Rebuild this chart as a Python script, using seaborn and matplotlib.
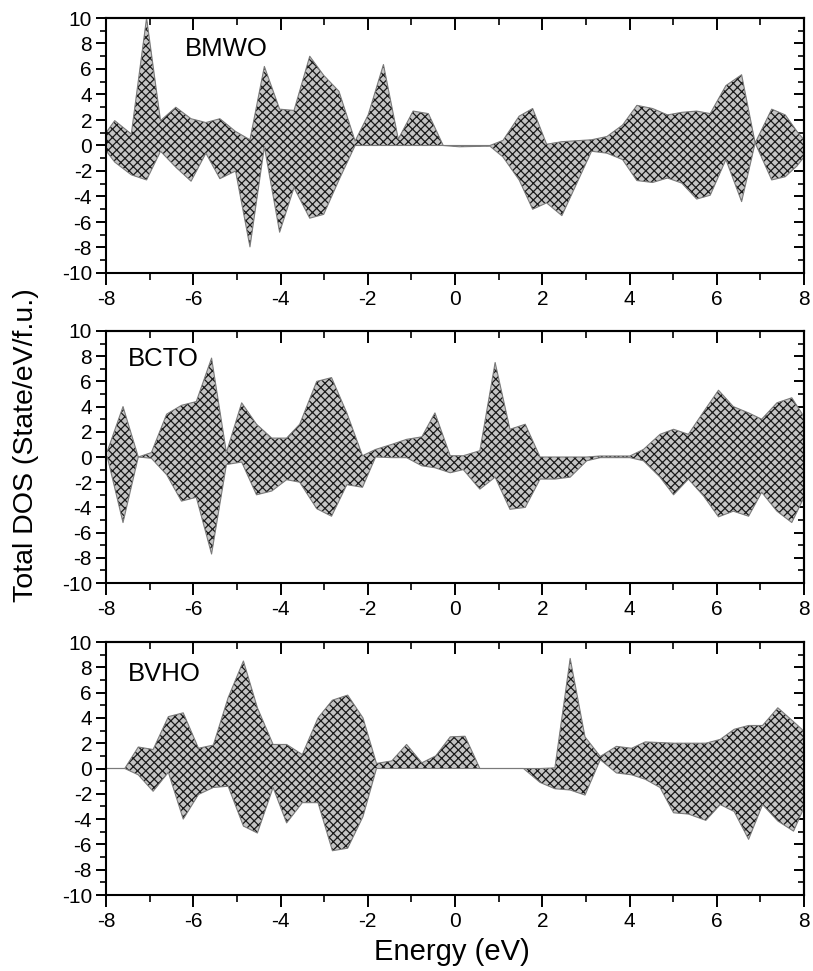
import matplotlib
matplotlib.use("Agg")
import matplotlib.pyplot as plt
from matplotlib.ticker import MultipleLocator, NullFormatter
import numpy as np
import pandas as pd
import seaborn as sns

# ---- spin-resolved total DOS (up > 0, down < 0), State/eV/f.u. ----
labels = ["BMWO", "BCTO", "BVHO"]

energy_bmwo = [-8.0, -7.80, -7.42, -7.07, -6.75, -6.40, -6.05, -5.71, -5.39, -5.03,
               -4.70, -4.37, -4.02, -3.69, -3.33, -3.01, -2.66, -2.29, -1.99, -1.64,
               -1.30, -0.96, -0.61, -0.27, 0.10, 0.80, 1.10, 1.47, 1.78, 2.10,
               2.45, 3.13, 3.48, 3.84, 4.17, 4.53, 4.87, 5.20, 5.54, 5.85,
               6.21, 6.57, 6.88, 7.26, 7.57, 7.84, 8.0]
up_bmwo = [1.0, 1.95, 0.9, 10.0, 1.95, 3.0, 2.1, 1.8, 2.1, 1.1,
           0.45, 6.2, 2.85, 2.75, 7.0, 5.5, 4.25, 0.35, 2.4, 6.35,
           0.5, 2.7, 2.5, 0.0, 0.0, 0.0, 0.4, 2.3, 2.9, 0.1,
           0.3, 0.45, 0.7, 1.6, 3.15, 2.9, 2.4, 2.6, 2.7, 2.5,
           4.7, 5.55, 0.2, 2.85, 2.4, 1.1, 0.45]
down_bmwo = [-0.4, -1.3, -2.3, -2.7, -0.45, -1.7, -2.8, -0.6, -2.6, -2.0,
             -7.95, -0.1, -6.8, -3.3, -5.7, -5.4, -2.7, 0.0, 0.0, 0.0,
             0.0, 0.0, 0.0, 0.0, -0.1, -0.05, -0.9, -2.7, -5.0, -4.5,
             -5.5, -0.45, -0.6, -1.1, -2.75, -2.9, -2.55, -2.95, -4.2, -3.9,
             -1.1, -4.4, 0.2, -2.7, -2.45, -1.6, -0.9]

energy_bcto = [-7.97, -7.61, -7.26, -6.96, -6.61, -6.27, -5.93, -5.58, -5.24, -4.89,
               -4.55, -4.20, -3.86, -3.56, -3.17, -2.83, -2.48, -2.12, -1.82, -1.45,
               -1.11, -0.76, -0.46, -0.11, 0.19, 0.57, 0.92, 1.26, 1.61, 1.95,
               2.29, 2.64, 3.02, 3.33, 4.01, 4.32, 4.70, 5.01, 5.35, 5.70,
               6.04, 6.38, 6.73, 7.03, 7.38, 7.72, 8.0]
up_bcto = [0.45, 4.0, 0.0, 0.35, 3.4, 4.1, 4.4, 7.85, 0.35, 4.3,
           2.6, 1.5, 1.5, 2.6, 6.0, 6.3, 3.5, 0.1, 0.6, 1.0,
           1.4, 1.6, 3.5, 0.1, 0.1, 0.5, 7.5, 2.2, 2.6, 0.0,
           0.0, 0.0, 0.0, 0.08, 0.08, 0.6, 1.8, 2.2, 1.8, 3.6,
           5.3, 4.0, 3.5, 3.0, 4.3, 4.7, 3.2]
down_bcto = [0.0, -5.2, 0.0, -0.1, -1.4, -3.5, -3.2, -7.7, -0.6, -0.4,
             -3.0, -2.7, -1.8, -2.0, -4.1, -4.7, -2.2, -2.4, 0.0, -0.05,
             -0.05, -0.7, -0.85, -1.25, -1.0, -2.55, -1.6, -4.15, -4.0, -1.75,
             -1.75, -1.6, -0.3, -0.05, -0.05, -0.3, -1.6, -3.0, -1.75, -3.1,
             -4.75, -4.3, -4.7, -2.8, -4.3, -5.2, -3.2]

energy_bvho = [-8.0, -7.57, -7.26, -6.92, -6.57, -6.23, -5.88, -5.54, -5.20, -4.85,
               -4.53, -4.17, -3.86, -3.50, -3.14, -2.81, -2.46, -2.11, -1.80, -1.45,
               -1.11, -0.76, -0.44, -0.11, 0.23, 0.57, 1.57, 1.95, 2.29, 2.64,
               2.98, 3.33, 3.70, 4.05, 4.36, 4.70, 5.01, 5.35, 5.75, 6.08,
               6.40, 6.73, 7.05, 7.40, 7.76, 8.0]
up_bvho = [0.0, 0.0, 1.7, 1.5, 4.1, 4.4, 1.6, 1.85, 5.6, 8.5,
           4.8, 1.9, 1.9, 1.1, 4.0, 5.4, 5.8, 4.0, 0.4, 0.6,
           1.9, 0.45, 1.0, 2.5, 2.55, 0.0, 0.0, 0.0, 0.05, 8.7,
           2.5, 0.95, 1.75, 1.6, 2.1, 2.05, 2.0, 2.0, 2.0, 2.3,
           3.1, 3.4, 3.4, 4.8, 3.7, 2.95]
down_bvho = [0.0, 0.0, -0.5, -1.8, -0.3, -4.0, -2.05, -1.5, -1.4, -4.55,
             -5.1, -1.5, -4.3, -2.7, -2.7, -6.5, -6.3, -3.8, 0.0, 0.0,
             0.0, 0.0, 0.0, 0.0, 0.0, 0.0, 0.0, -1.1, -1.6, -1.7,
             -2.1, 0.7, -0.35, -0.5, -0.85, -1.5, -3.5, -3.6, -4.1, -2.85,
             -3.4, -5.6, -2.85, -4.15, -4.95, -3.1]

x_ticks = [-8, -6, -4, -2, 0, 2, 4, 6, 8]
y_ticks = [-10, -8, -6, -4, -2, 0, 2, 4, 6, 8, 10]

panels = [
    (labels[0], energy_bmwo, up_bmwo, down_bmwo, (-6.2, 7.6)),
    (labels[1], energy_bcto, up_bcto, down_bcto, (-7.5, 7.8)),
    (labels[2], energy_bvho, up_bvho, down_bvho, (-7.5, 7.5)),
]

sns.set_theme(style="ticks")
plt.rcParams.update({
    "font.family": ["Liberation Sans", "DejaVu Sans"],
    "hatch.linewidth": 0.9,
    "hatch.color": "#1a1a1a",
    "axes.linewidth": 1.5,
    "axes.unicode_minus": False,
    "text.color": "black",
    "axes.labelcolor": "black",
    "xtick.color": "black",
    "ytick.color": "black",
})

fig = plt.figure(figsize=(8.13, 9.71), dpi=100)
W, H = 813.0, 971.0
left_px, right_px = 106, 804
frames = [(18, 273), (331, 583), (642, 895)]

tick_fs = 15
for (name, en, up, dn, txt), (top_px, bot_px) in zip(panels, frames):
    ax = fig.add_axes([left_px / W, 1 - bot_px / H,
                       (right_px - left_px) / W, (bot_px - top_px) / H])
    df = pd.DataFrame({"Energy": en, "up": up, "down": dn})
    ax.fill_between(df["Energy"], df["down"], df["up"], facecolor="#c4c4c4",
                    edgecolor="#1a1a1a", linewidth=0, hatch="xxxx", zorder=1)
    sns.lineplot(data=df, x="Energy", y="up", ax=ax, color="#7a7a7a",
                 linewidth=0.8, zorder=2)
    sns.lineplot(data=df, x="Energy", y="down", ax=ax, color="#7a7a7a",
                 linewidth=0.8, zorder=2)

    ax.set_xlim(-8, 8)
    ax.set_ylim(-10, 10)
    ax.set_xticks(x_ticks)
    ax.set_yticks(y_ticks)
    ax.xaxis.set_minor_locator(MultipleLocator(1))
    ax.yaxis.set_minor_locator(MultipleLocator(1))
    ax.set_xlabel("")
    ax.set_ylabel("")
    ax.tick_params(which="major", direction="out", length=8.5, width=1.4,
                   labelsize=tick_fs, colors="black")
    ax.tick_params(axis="x", which="major", pad=4)
    ax.tick_params(axis="y", which="major", length=7, pad=3)
    ax.tick_params(which="minor", direction="out", length=5, width=1.2)
    ax.tick_params(axis="y", which="minor", length=4)
    for sp in ax.spines.values():
        sp.set_visible(True)
        sp.set_linewidth(1.5)
        sp.set_color("black")

    # mirrored top / right axes with inward ticks
    top = ax.secondary_xaxis("top")
    top.set_xticks(x_ticks)
    top.xaxis.set_minor_locator(MultipleLocator(1))
    top.xaxis.set_major_formatter(NullFormatter())
    top.tick_params(which="major", direction="in", length=8.5, width=1.4)
    top.tick_params(which="minor", direction="in", length=5, width=1.2)
    top.spines["top"].set_linewidth(1.5)
    right = ax.secondary_yaxis("right")
    right.set_yticks(y_ticks)
    right.yaxis.set_minor_locator(MultipleLocator(1))
    right.yaxis.set_major_formatter(NullFormatter())
    right.tick_params(which="major", direction="in", length=7, width=1.4)
    right.tick_params(which="minor", direction="in", length=4, width=1.2)
    right.spines["right"].set_linewidth(1.5)

    ax.text(txt[0], txt[1], name, fontsize=18.5, va="center", ha="left",
            color="black")

fig.text(26 / W, 1 - 445 / H, "Total DOS (State/eV/f.u.)", rotation=90,
         ha="center", va="center", fontsize=20.5)
fig.text(452 / W, 1 - 952 / H, "Energy (eV)", ha="center", va="center",
         fontsize=21)

fig.savefig("out.png", dpi=100)
